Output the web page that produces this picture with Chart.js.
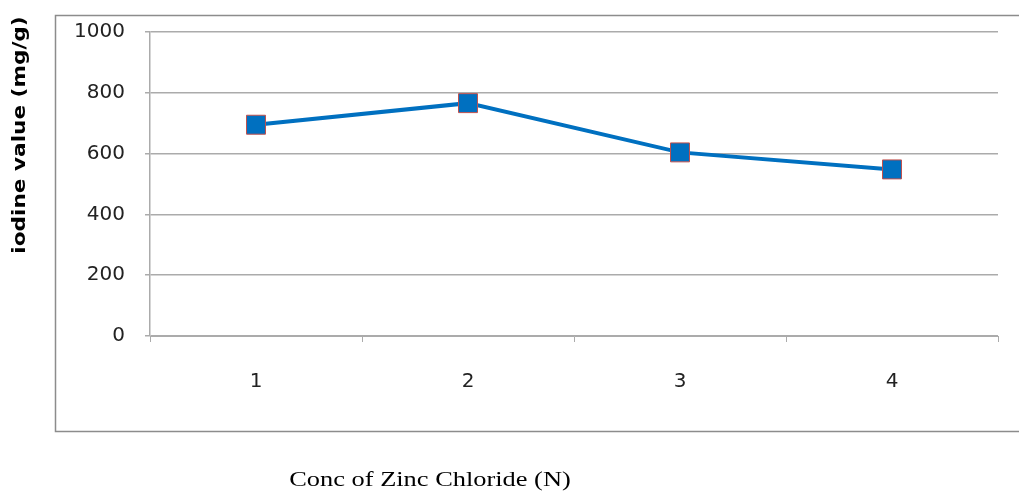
<!DOCTYPE html>
<html lang="en">
<head>
    <meta charset="UTF-8">
    <title>Iodine value vs Conc of Zinc Chloride</title>
    <script src="https://cdn.jsdelivr.net/npm/chart.js"></script>
    <style>
        body {
            margin: 0;
            padding: 0;
            background-color: white;
            overflow: hidden;
        }
        .chart-container {
            position: relative;
            width: 1019px;
            height: 495px;
        }
    </style>
</head>
<body>
    <div class="chart-container">
        <canvas id="iodineChart"></canvas>
    </div>

    <script>
        const concentrations = ['1', '2', '3', '4'];
        const iodineValues = [695, 766, 604, 548];
        const yTicks = [0, 200, 400, 600, 800, 1000];
        const yTitle = 'iodine value (mg/g)';
        const xTitle = 'Conc of Zinc Chloride (N)';

        const gridColor = '#ABABAB';

        // frame around the plot (open on the right, it runs off the picture) and the axis titles
        const framePlugin = {
            id: 'frame',
            beforeDraw(chart) {
                const ctx = chart.ctx;
                ctx.save();
                ctx.strokeStyle = '#8C8C8C';
                ctx.lineWidth = 1.5;
                ctx.beginPath();
                ctx.moveTo(1030, 15.5);
                ctx.lineTo(55.5, 15.5);
                ctx.lineTo(55.5, 431.5);
                ctx.lineTo(1030, 431.5);
                ctx.stroke();
                ctx.restore();
            },
            afterDraw(chart) {
                const ctx = chart.ctx;
                ctx.save();
                ctx.fillStyle = '#000';
                ctx.textAlign = 'center';
                ctx.textBaseline = 'middle';

                // y title, rotated and stretched a bit along its length
                ctx.save();
                ctx.translate(20, 135);
                ctx.rotate(-Math.PI / 2);
                ctx.scale(1.2, 1);
                ctx.font = 'bold 18px "DejaVu Sans"';
                ctx.fillText(yTitle, 0, 0);
                ctx.restore();

                // x title, outside the frame
                ctx.save();
                ctx.translate(430, 480);
                ctx.scale(1.2, 1);
                ctx.font = '22px "Liberation Serif"';
                ctx.fillText(xTitle, 0, 0);
                ctx.restore();

                ctx.restore();
            }
        };

        const ctx = document.getElementById('iodineChart').getContext('2d');
        const chart = new Chart(ctx, {
            type: 'line',
            data: {
                labels: concentrations,
                datasets: [{
                    data: iodineValues,
                    borderColor: '#0070C0',
                    borderWidth: 4,
                    tension: 0,
                    pointStyle: 'rect',
                    pointRadius: 13.4,
                    pointHoverRadius: 13.4,
                    pointBackgroundColor: '#0070C0',
                    pointBorderColor: '#C0504D',
                    pointBorderWidth: 1
                }]
            },
            options: {
                responsive: true,
                maintainAspectRatio: false,
                animation: false,
                layout: {
                    padding: { top: 31, right: 21, bottom: 0, left: 0 }
                },
                plugins: {
                    legend: { display: false },
                    tooltip: { enabled: false }
                },
                scales: {
                    x: {
                        offset: true,
                        afterFit: (scale) => { scale.height = 159; },
                        grid: {
                            offset: true,
                            drawOnChartArea: false,
                            drawTicks: true,
                            tickLength: 6,
                            color: gridColor
                        },
                        border: { color: gridColor },
                        ticks: {
                            padding: 28,
                            color: '#222',
                            font: { family: 'DejaVu Sans', size: 20 }
                        }
                    },
                    y: {
                        min: 0,
                        max: 1000,
                        afterFit: (scale) => { scale.width = 150; },
                        afterBuildTicks: (scale) => {
                            scale.ticks = yTicks.map(v => ({ value: v }));
                        },
                        grid: {
                            color: gridColor,
                            tickLength: 5,
                            lineWidth: 1.5
                        },
                        border: { color: gridColor, width: 1.5 },
                        ticks: {
                            padding: 20,
                            color: '#222',
                            font: { family: 'DejaVu Sans', size: 20 },
                            callback: (value) => String(value)
                        }
                    }
                }
            },
            plugins: [framePlugin]
        });
    </script>
</body>
</html>
